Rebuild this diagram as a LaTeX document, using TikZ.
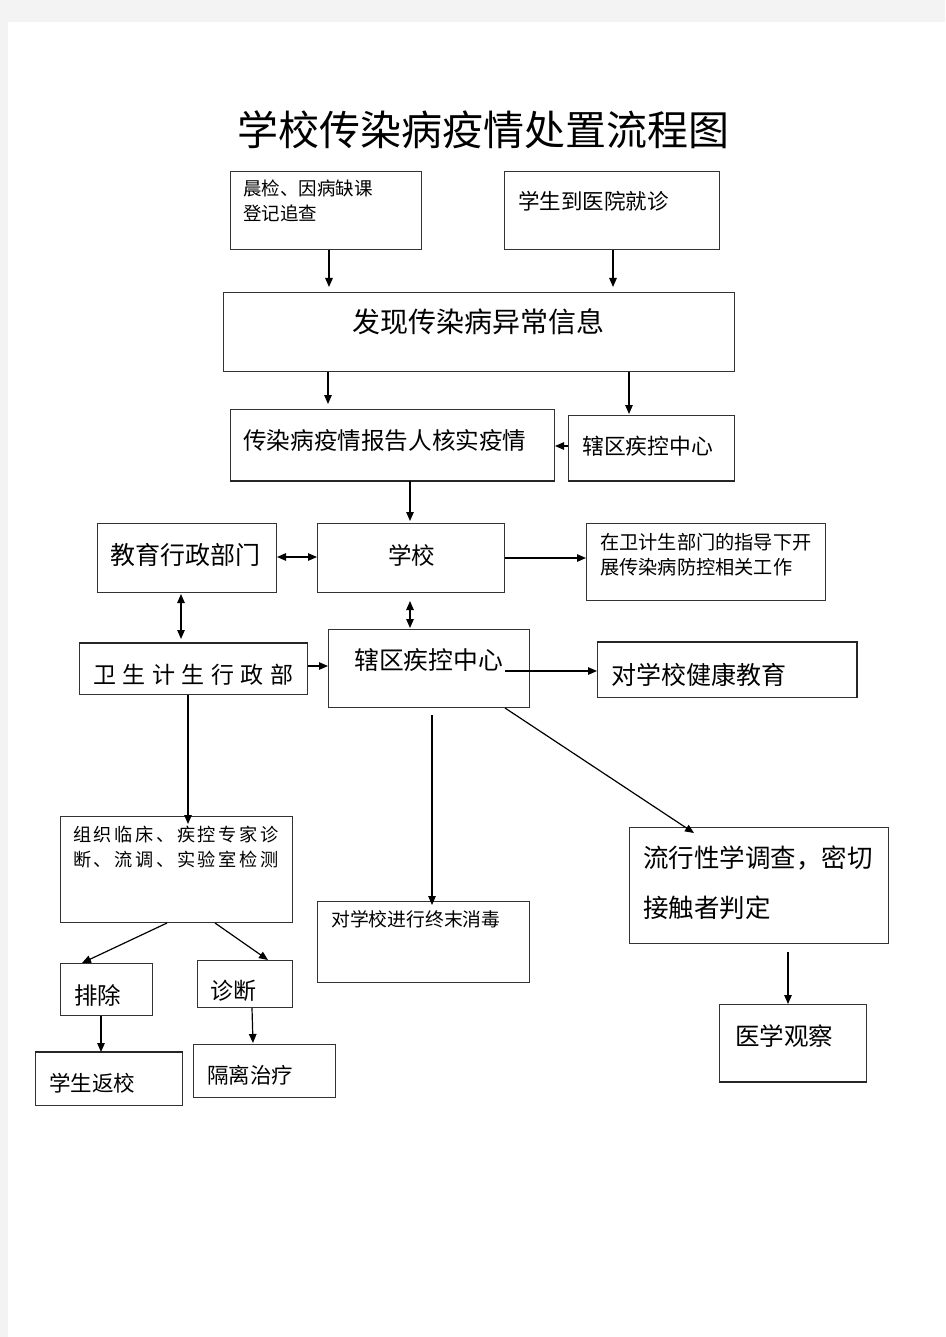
\documentclass[tikz,border=0pt]{standalone}
\usepackage{fontspec}
\setmainfont{Noto Sans CJK SC}
\usetikzlibrary{arrows.meta}
\definecolor{pagegray}{HTML}{F3F3F3}
\newcommand\hgapA{\hspace{6.5pt}}
\newcommand\hgapB{\hspace{2.6pt}}
\newcommand\fs[2]{\fontsize{#1}{#2}\selectfont}
\tikzset{
  box/.style={draw=black!80, line width=1pt, anchor=north west, inner sep=0pt},
  txt/.style={anchor=west, inner sep=0pt, align=left, text=black},
  tip/.style={-{Triangle[length=9pt,width=7.5pt]}},
  arr/.style={line width=1.2pt, black, tip},
  darr/.style={line width=1.2pt, black, {Triangle[length=9pt,width=7.5pt]}-{Triangle[length=9pt,width=7.5pt]}},
  edge/.style={line width=2.2pt, black!85}
}
\begin{document}
\begin{tikzpicture}[x=1pt,y=-1pt]
\useasboundingbox (0,0) rectangle (945,1337);
\fill[pagegray] (0,0) rectangle (945,1337);
\fill[white] (8,22) rectangle (945,1337);

% title
\node[inner sep=0pt, font={\fs{41}{41}}] (title) at (483.5,130) {学校传染病疫情处置流程图};

% boxes
\node[box, minimum width=191pt, minimum height=78pt] (b1) at (230,171) {};
\node[box, minimum width=215pt, minimum height=78pt] (b2) at (504,171) {};
\node[box, minimum width=511pt, minimum height=79pt] (big) at (223,292) {};
\node[box, minimum width=324pt, minimum height=71pt] (rep) at (230,409) {};
\node[box, minimum width=166pt, minimum height=65pt] (cdc1) at (568,415) {};
\node[box, minimum width=179pt, minimum height=69pt] (edu) at (97,523) {};
\node[box, minimum width=187pt, minimum height=69pt] (sch) at (317,523) {};
\node[box, minimum width=239pt, minimum height=77pt] (guide) at (586,523) {};
\node[box, minimum width=228pt, minimum height=51pt] (hlth) at (79,643) {};
\node[box, minimum width=201pt, minimum height=78pt] (cdc2) at (328,629) {};
\node[box, minimum width=259pt, minimum height=55pt] (hedu) at (597,642) {};
\node[box, minimum width=232pt, minimum height=106pt] (clin) at (60,816) {};
\node[box, minimum width=212pt, minimum height=81pt] (dis) at (317,901) {};
\node[box, minimum width=259pt, minimum height=116pt] (epi) at (629,827) {};
\node[box, minimum width=147pt, minimum height=77pt] (obs) at (719,1004) {};
\node[box, minimum width=92pt, minimum height=52pt] (exc) at (60,963) {};
\node[box, minimum width=95pt, minimum height=47pt] (diag) at (197,960) {};
\node[box, minimum width=147pt, minimum height=53pt] (ret) at (35,1052) {};
\node[box, minimum width=142pt, minimum height=53pt] (iso) at (193,1044) {};

% thicker edges
\draw[edge] (rep.south west) -- (rep.south east);
\draw[edge] (cdc1.south west) -- (cdc1.south east);
\draw[edge] (hlth.north west) -- (hlth.north east);
\draw[edge] (hedu.north west) -- (hedu.north east) -- (hedu.south east);
\draw[edge] (obs.south west) -- (obs.south east);
\draw[edge] (ret.north west) -- (ret.north east);

% texts
\node[txt, font={\fs{18.5}{25}}] (b1t) at (243,200.5) {晨检、因病缺课\\登记追查};
\node[txt, font={\fs{21.5}{25}}] (b2t) at (518,201) {学生到医院就诊};
\node[txt, font={\fs{28}{30}}] (bigt) at (352,322) {发现传染病异常信息};
\node[txt, font={\fs{23.6}{26}}] (rept) at (243,441) {传染病疫情报告人核实疫情};
\node[txt, font={\fs{21.8}{24}}] (cdc1t) at (582,446) {辖区疾控中心};
\node[txt, font={\fs{25}{27}}] (edut) at (110,555) {教育行政部门};
\node[txt, anchor=center, font={\fs{23.5}{26}}] (scht) at (411.5,555) {学校};
\node[txt, font={\fs{19.2}{25}}] (guidet) at (600,554.5) {在卫计生部门的指导下开\\展传染病防控相关工作};
\node[txt, font={\fs{23}{25}}] (hltht) at (93,675) {卫\hgapA{}生\hgapA{}计\hgapA{}生\hgapA{}行\hgapA{}政\hgapA{}部};
\node[txt, font={\fs{24.8}{27}}] (cdc2t) at (354,660) {辖区疾控中心};
\node[txt, font={\fs{25}{27}}] (hedut) at (611,675) {对学校健康教育};
\node[txt, font={\fs{18.2}{25}}] (clint) at (73,847.5) {组\hgapB{}织\hgapB{}临\hgapB{}床\hgapB{}、\hgapB{}疾\hgapB{}控\hgapB{}专\hgapB{}家\hgapB{}诊\\断\hgapB{}、\hgapB{}流\hgapB{}调\hgapB{}、\hgapB{}实\hgapB{}验\hgapB{}室\hgapB{}检\hgapB{}测};
\node[txt, font={\fs{18.8}{21}}] (dist) at (331,919) {对学校进行终末消毒};
\node[txt, font={\fs{25.5}{50}}] (epit) at (643,883) {流行性学调查，密切\\接触者判定};
\node[txt, font={\fs{24.5}{27}}] (obst) at (735,1036) {医学观察};
\node[txt, font={\fs{23.5}{26}}] (exct) at (74,995) {排除};
\node[txt, font={\fs{23}{26}}] (diagt) at (210,991) {诊断};
\node[txt, font={\fs{21.5}{24}}] (rett) at (49,1083) {学生返校};
\node[txt, font={\fs{21.5}{24}}] (isot) at (207,1075) {隔离治疗};

% helper coordinates
\coordinate (k1) at (329,0);
\coordinate (k2) at (613,0);
\coordinate (k3) at (328,0);
\coordinate (k4) at (629,0);
\coordinate (k5) at (0,446);
\coordinate (k6) at (410,0);
\coordinate (k7) at (0,557);
\coordinate (k8) at (0,558);
\coordinate (k9) at (181,0);
\coordinate (k11) at (0,666);
\coordinate (k12) at (188,0);
\coordinate (k13) at (432,0);
\coordinate (k14) at (788,0);
\coordinate (s1) at (505,671);
\coordinate (e1) at (505,0);
\coordinate (e2) at (694,833);
\coordinate (x167) at (167,0);
\coordinate (x82) at (82,0);
\coordinate (x215) at (215,0);
\coordinate (x268) at (268,0);
\coordinate (x101) at (101,0);
\coordinate (x252) at (252,0);
\coordinate (x253) at (253,0);

% connectors
\draw[arr, shorten >=5pt] (b1.south -| k1) -- (big.north -| k1);
\draw[arr, shorten >=5pt] (b2.south -| k2) -- (big.north -| k2);
\draw[arr, shorten >=5pt] (big.south -| k3) -- (rep.north -| k3);
\draw[arr, shorten >=1pt] (big.south -| k4) -- (cdc1.north -| k4);
\draw[arr] (cdc1.west |- k5) -- (rep.east |- k5);
\draw[arr, shorten >=2pt] (rep.south -| k6) -- (sch.north -| k6);
\draw[darr] (edu.east |- k7) -- (sch.west |- k7);
\draw[arr] (sch.east |- k8) -- (guide.west |- k8);
\draw[darr, shorten <=1pt, shorten >=4pt] (edu.south -| k9) -- (hlth.north -| k9);
\draw[darr, shorten <=8pt, shorten >=1pt] (sch.south -| k6) -- (cdc2.north -| k6);
\draw[arr] (hlth.east |- k11) -- (cdc2.west |- k11);
\draw[arr] (s1) -- (hedu.west |- s1);
\draw[arr, shorten >=-8pt] (hlth.south -| k12) -- (clin.north -| k12);
\draw[arr, shorten <=7pt, shorten >=-4pt] (cdc2.south -| k13) -- (dis.north -| k13);
\draw[arr] (cdc2.south -| e1) -- (e2);
\draw[arr, shorten <=8pt] (epi.south -| k14) -- (obs.north -| k14);
\draw[arr] (clin.south -| x167) -- (exc.north -| x82);
\draw[arr] (clin.south -| x215) -- (diag.north -| x268);
\draw[arr] (exc.south -| x101) -- (ret.north -| x101);
\draw[arr, shorten >=1pt] (diag.south -| x252) -- (iso.north -| x253);
\end{tikzpicture}
\end{document}
